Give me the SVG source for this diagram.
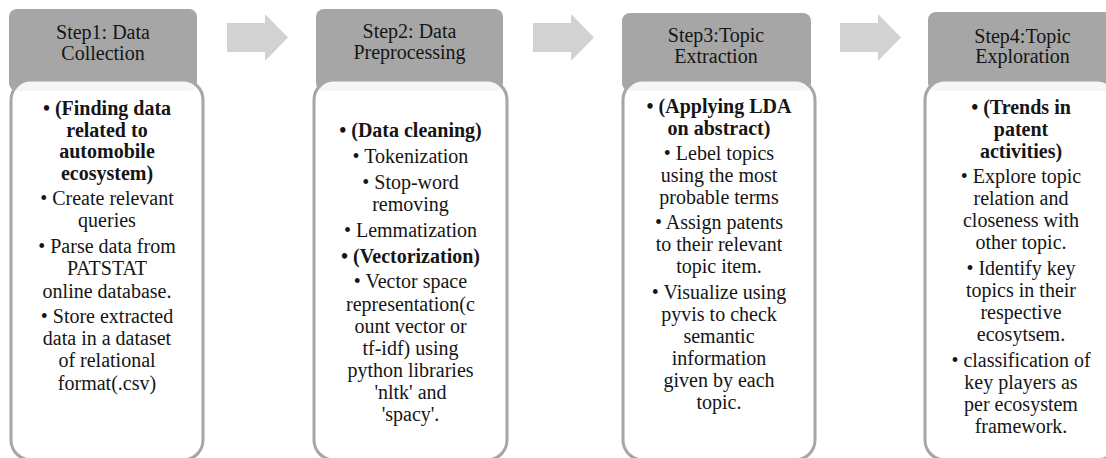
<svg xmlns="http://www.w3.org/2000/svg" width="1106" height="458" viewBox="0 0 1106 458">
  <style>
    .hdr { fill: #a6a6a6; }
    .card { fill: #ffffff; fill-opacity: 0.9; stroke: #a6a6a6; stroke-width: 3; }
    .arrow { fill: #d2d2d2; }
    .t { font-family: 'Liberation Serif', serif !important; font-size: 20px; fill: #151515; text-anchor: middle; }
    .bold { font-weight: bold; }
  </style>

  <rect width="1106" height="458" fill="#ffffff"/>

  <!-- flow arrows between the steps -->
  <g id="connectors">
    <polygon class="arrow" points="227,23 265,23 265,14 288,37.5 265,61 265,52 227,52"/>
    <polygon class="arrow" points="533,23 571,23 571,14 594,37.5 571,61 571,52 533,52"/>
    <polygon class="arrow" points="840,23 878,23 878,14 901,37.5 878,61 878,52 840,52"/>
  </g>

  <!-- Step 1 -->
  <g id="step1">
    <rect class="hdr" x="9" y="9" width="188" height="82" rx="8"/>
    <text class="t" font-family="Liberation Serif, serif" style="font-family:'Liberation Serif',serif !important"><tspan x="103" y="39">Step1: Data</tspan><tspan x="103" y="60">Collection</tspan></text>
    <rect class="card" x="11" y="80" width="192" height="380" rx="20"/>
    <text class="t bold" font-family="Liberation Serif, serif" style="font-family:'Liberation Serif',serif !important"><tspan x="107" y="115">• (Finding data</tspan><tspan x="107" y="137">related to</tspan><tspan x="107" y="158">automobile</tspan><tspan x="107" y="180">ecosystem)</tspan></text>
    <text class="t" font-family="Liberation Serif, serif" style="font-family:'Liberation Serif',serif !important"><tspan x="107" y="205">• Create relevant</tspan><tspan x="107" y="227">queries</tspan><tspan x="107" y="253">• Parse data from</tspan><tspan x="107" y="275">PATSTAT</tspan><tspan x="107" y="298">online database.</tspan><tspan x="107" y="323">• Store extracted</tspan><tspan x="107" y="345">data in a dataset</tspan><tspan x="107" y="367">of relational</tspan><tspan x="107" y="390">format(.csv)</tspan></text>
  </g>

  <!-- Step 2 -->
  <g id="step2">
    <rect class="hdr" x="316" y="9" width="187" height="82" rx="8"/>
    <text class="t" font-family="Liberation Serif, serif" style="font-family:'Liberation Serif',serif !important"><tspan x="409.5" y="38">Step2: Data</tspan><tspan x="409.5" y="59">Preprocessing</tspan></text>
    <rect class="card" x="314" y="80" width="193" height="380" rx="20"/>
    <text class="t bold" font-family="Liberation Serif, serif" style="font-family:'Liberation Serif',serif !important" x="410.5" y="137">• (Data cleaning)</text>
    <text class="t" font-family="Liberation Serif, serif" style="font-family:'Liberation Serif',serif !important"><tspan x="410.5" y="163">• Tokenization</tspan><tspan x="410.5" y="189">• Stop-word</tspan><tspan x="410.5" y="211">removing</tspan><tspan x="410.5" y="237">• Lemmatization</tspan></text>
    <text class="t bold" font-family="Liberation Serif, serif" style="font-family:'Liberation Serif',serif !important" x="410.5" y="263">• (Vectorization)</text>
    <text class="t" font-family="Liberation Serif, serif" style="font-family:'Liberation Serif',serif !important"><tspan x="410.5" y="288">• Vector space</tspan><tspan x="410.5" y="311">representation(c</tspan><tspan x="410.5" y="333">ount vector or</tspan><tspan x="410.5" y="355">tf-idf) using</tspan><tspan x="410.5" y="377">python libraries</tspan><tspan x="410.5" y="399">'nltk' and</tspan><tspan x="410.5" y="421">'spacy'.</tspan></text>
  </g>

  <!-- Step 3 -->
  <g id="step3">
    <rect class="hdr" x="622" y="13" width="189" height="78" rx="8"/>
    <text class="t" font-family="Liberation Serif, serif" style="font-family:'Liberation Serif',serif !important"><tspan x="716" y="42">Step3:Topic</tspan><tspan x="716" y="63">Extraction</tspan></text>
    <rect class="card" x="623" y="80" width="192" height="380" rx="20"/>
    <text class="t bold" font-family="Liberation Serif, serif" style="font-family:'Liberation Serif',serif !important"><tspan x="719" y="113">• (Applying LDA</tspan><tspan x="719" y="135">on abstract)</tspan></text>
    <text class="t" font-family="Liberation Serif, serif" style="font-family:'Liberation Serif',serif !important"><tspan x="719" y="160">• Lebel topics</tspan><tspan x="719" y="182">using the most</tspan><tspan x="719" y="204">probable terms</tspan><tspan x="719" y="229">• Assign patents</tspan><tspan x="719" y="251">to their relevant</tspan><tspan x="719" y="273">topic item.</tspan><tspan x="719" y="299">• Visualize using</tspan><tspan x="719" y="321">pyvis to check</tspan><tspan x="719" y="343">semantic</tspan><tspan x="719" y="365">information</tspan><tspan x="719" y="387">given by each</tspan><tspan x="719" y="409">topic.</tspan></text>
  </g>

  <!-- Step 4 -->
  <g id="step4">
    <rect class="hdr" x="928" y="12" width="189" height="79" rx="8"/>
    <text class="t" font-family="Liberation Serif, serif" style="font-family:'Liberation Serif',serif !important"><tspan x="1022.5" y="43">Step4:Topic</tspan><tspan x="1022.5" y="63">Exploration</tspan></text>
    <rect class="card" x="925" y="80" width="192" height="380" rx="20"/>
    <text class="t bold" font-family="Liberation Serif, serif" style="font-family:'Liberation Serif',serif !important"><tspan x="1021" y="114">• (Trends in</tspan><tspan x="1021" y="136">patent</tspan><tspan x="1021" y="158">activities)</tspan></text>
    <text class="t" font-family="Liberation Serif, serif" style="font-family:'Liberation Serif',serif !important"><tspan x="1021" y="183">• Explore topic</tspan><tspan x="1021" y="205">relation and</tspan><tspan x="1021" y="227">closeness with</tspan><tspan x="1021" y="249">other topic.</tspan><tspan x="1021" y="275">• Identify key</tspan><tspan x="1021" y="297">topics in their</tspan><tspan x="1021" y="319">respective</tspan><tspan x="1021" y="341">ecosytsem.</tspan><tspan x="1021" y="367">• classification of</tspan><tspan x="1021" y="389">key players as</tspan><tspan x="1021" y="411">per ecosystem</tspan><tspan x="1021" y="433">framework.</tspan></text>
  </g>
</svg>
